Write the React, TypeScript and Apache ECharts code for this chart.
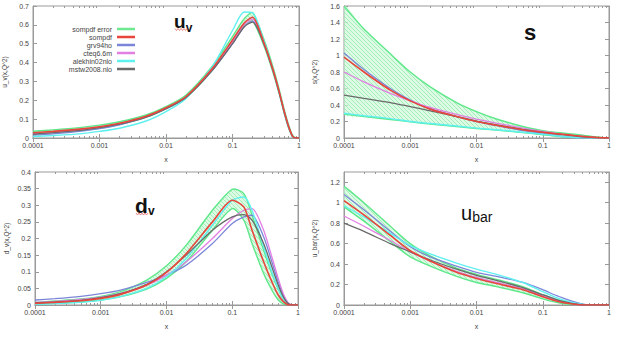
import React, { useEffect, useRef } from "react";
import * as echarts from "echarts";

// ---------- data ----------
const xs = [0.0001, 0.0002, 0.0005, 0.001, 0.002, 0.005, 0.01, 0.02, 0.05, 0.1, 0.15, 0.2, 0.3, 0.4, 0.5, 0.6, 0.7, 0.8, 0.9, 1];
const xTickLabels = ["0.0001", "0.001", "0.01", "0.1", "1"];
const xMinorTicks = [2, 3, 4, 5, 6, 7, 8, 9].flatMap((m) => [m * 1e-4, m * 1e-3, m * 1e-2, m * 1e-1]);
const legendNames = ["sompdf error", "sompdf", "grv94ho", "cteq6.6m", "alekhin02nlo", "mstw2008.nlo"];

// u_v
const uvErrLow = [0.020, 0.027, 0.039, 0.052, 0.071, 0.109, 0.154, 0.213, 0.360, 0.505, 0.592, 0.620, 0.485, 0.355, 0.238, 0.130, 0.052, 0.006, 0, 0];
const uvErrHigh = [0.036, 0.043, 0.055, 0.068, 0.086, 0.122, 0.166, 0.228, 0.382, 0.538, 0.632, 0.665, 0.518, 0.385, 0.262, 0.150, 0.068, 0.014, 0, 0];
const uvSompdf = [0.028, 0.035, 0.047, 0.060, 0.078, 0.115, 0.160, 0.220, 0.370, 0.520, 0.610, 0.640, 0.500, 0.370, 0.250, 0.140, 0.060, 0.010, 0, 0];
const uvGrv = [0.015, 0.022, 0.035, 0.050, 0.070, 0.110, 0.155, 0.215, 0.360, 0.500, 0.590, 0.620, 0.495, 0.365, 0.245, 0.135, 0.055, 0.008, 0, 0];
const uvCteq = [0.022, 0.030, 0.043, 0.057, 0.076, 0.113, 0.158, 0.218, 0.365, 0.510, 0.600, 0.630, 0.500, 0.368, 0.248, 0.138, 0.058, 0.009, 0, 0];
const uvAlekhin = [0.008, 0.013, 0.022, 0.035, 0.052, 0.090, 0.140, 0.210, 0.380, 0.570, 0.668, 0.665, 0.510, 0.370, 0.245, 0.135, 0.055, 0.008, 0, 0];
const uvMstw = [0.020, 0.028, 0.040, 0.055, 0.073, 0.110, 0.155, 0.215, 0.360, 0.500, 0.590, 0.615, 0.495, 0.365, 0.245, 0.138, 0.058, 0.010, 0, 0];

// s
const sErrLow = [0.29, 0.26, 0.225, 0.195, 0.17, 0.14, 0.115, 0.095, 0.065, 0.04, 0.025, 0.015, 0.005, 0.001, 0, 0, 0, 0, 0, 0];
const sErrHigh = [1.60, 1.32, 1.02, 0.80, 0.62, 0.43, 0.32, 0.23, 0.14, 0.09, 0.07, 0.06, 0.045, 0.033, 0.024, 0.016, 0.01, 0.005, 0.002, 0];
const sSompdf = [0.98, 0.80, 0.58, 0.45, 0.35, 0.26, 0.20, 0.155, 0.10, 0.07, 0.055, 0.045, 0.03, 0.02, 0.013, 0.008, 0.004, 0.002, 0.001, 0];
const sGrv = [1.03, 0.83, 0.60, 0.46, 0.355, 0.26, 0.20, 0.15, 0.09, 0.055, 0.035, 0.02, 0.006, 0.001, 0, 0, 0, 0, 0, 0];
const sCteq = [0.80, 0.68, 0.54, 0.45, 0.37, 0.285, 0.23, 0.18, 0.12, 0.08, 0.06, 0.045, 0.03, 0.02, 0.012, 0.007, 0.004, 0.002, 0.001, 0];
const sAlekhin = [0.30, 0.27, 0.235, 0.20, 0.175, 0.145, 0.12, 0.10, 0.07, 0.045, 0.03, 0.018, 0.006, 0.001, 0, 0, 0, 0, 0, 0];
const sMstw = [0.52, 0.48, 0.43, 0.38, 0.33, 0.26, 0.205, 0.16, 0.105, 0.07, 0.05, 0.04, 0.025, 0.015, 0.01, 0.006, 0.003, 0.001, 0, 0];

// d_v
const dvErrLow = [0.003, 0.005, 0.009, 0.015, 0.025, 0.048, 0.080, 0.130, 0.225, 0.290, 0.255, 0.185, 0.095, 0.045, 0.015, 0.003, 0, 0, 0, 0];
const dvErrHigh = [0.008, 0.012, 0.018, 0.026, 0.040, 0.075, 0.118, 0.180, 0.285, 0.348, 0.335, 0.270, 0.165, 0.095, 0.048, 0.018, 0.004, 0, 0, 0];
const dvSompdf = [0.005, 0.008, 0.013, 0.020, 0.032, 0.060, 0.098, 0.155, 0.250, 0.315, 0.295, 0.225, 0.130, 0.070, 0.030, 0.010, 0.001, 0, 0, 0];
const dvGrv = [0.015, 0.019, 0.026, 0.034, 0.045, 0.068, 0.090, 0.120, 0.185, 0.245, 0.265, 0.270, 0.205, 0.130, 0.070, 0.028, 0.006, 0, 0, 0];
const dvCteq = [0.008, 0.011, 0.017, 0.024, 0.035, 0.060, 0.090, 0.130, 0.200, 0.260, 0.285, 0.290, 0.225, 0.145, 0.080, 0.033, 0.008, 0, 0, 0];
const dvAlekhin = [0.002, 0.004, 0.008, 0.014, 0.025, 0.050, 0.085, 0.140, 0.240, 0.315, 0.325, 0.285, 0.175, 0.100, 0.050, 0.018, 0.003, 0, 0, 0];
const dvMstw = [0.006, 0.009, 0.014, 0.022, 0.034, 0.062, 0.100, 0.150, 0.225, 0.265, 0.272, 0.255, 0.185, 0.115, 0.060, 0.024, 0.005, 0, 0, 0];

// u_bar
const ubErrLow = [0.96, 0.82, 0.62, 0.47, 0.38, 0.28, 0.22, 0.18, 0.12, 0.06, 0.03, 0.015, 0.003, 0, 0, 0, 0, 0, 0, 0];
const ubErrHigh = [1.16, 1.00, 0.77, 0.60, 0.48, 0.36, 0.30, 0.25, 0.18, 0.10, 0.06, 0.04, 0.015, 0.004, 0, 0, 0, 0, 0, 0];
const ubSompdf = [1.02, 0.88, 0.68, 0.53, 0.43, 0.32, 0.26, 0.21, 0.15, 0.08, 0.045, 0.025, 0.008, 0, 0, 0, 0, 0, 0, 0];
const ubGrv = [1.08, 0.93, 0.72, 0.57, 0.47, 0.38, 0.32, 0.28, 0.22, 0.15, 0.10, 0.07, 0.03, 0.008, 0, 0, 0, 0, 0, 0];
const ubCteq = [0.87, 0.77, 0.63, 0.52, 0.43, 0.33, 0.27, 0.22, 0.16, 0.09, 0.05, 0.03, 0.01, 0, 0, 0, 0, 0, 0, 0];
const ubAlekhin = [0.97, 0.86, 0.70, 0.58, 0.50, 0.41, 0.35, 0.30, 0.22, 0.13, 0.08, 0.05, 0.02, 0.005, 0, 0, 0, 0, 0, 0];
const ubMstw = [0.80, 0.72, 0.60, 0.52, 0.44, 0.35, 0.29, 0.24, 0.17, 0.10, 0.06, 0.035, 0.012, 0, 0, 0, 0, 0, 0, 0];

// ---------- styling ----------
const COLORS = {
  band: "#5ee88a",
  sompdf: "#e8453c",
  grv: "#7c86d8",
  cteq: "#e27fe2",
  alekhin: "#5ff0f0",
  mstw: "#6a6a6a",
};
const FONT = "Liberation Sans, Arial, sans-serif";

const grids = [
  { left: 33, top: 6, width: 266, height: 132 },
  { left: 344, top: 6, width: 265, height: 132 },
  { left: 35, top: 172, width: 263, height: 133 },
  { left: 344, top: 172, width: 265, height: 133 },
];

const panels = [
  { yName: "u_v(x,Q^2)", yMax: 0.7, yInterval: 0.1, lo: uvErrLow, hi: uvErrHigh, lines: [uvGrv, uvCteq, uvAlekhin, uvMstw, uvSompdf] },
  { yName: "s(x,Q^2)", yMax: 1.6, yInterval: 0.2, lo: sErrLow, hi: sErrHigh, lines: [sGrv, sCteq, sAlekhin, sMstw, sSompdf] },
  { yName: "d_v(x,Q^2)", yMax: 0.4, yInterval: 0.05, lo: dvErrLow, hi: dvErrHigh, lines: [dvGrv, dvCteq, dvAlekhin, dvMstw, dvSompdf] },
  { yName: "u_bar(x,Q^2)", yMax: 1.3, yInterval: 0.2, lo: ubErrLow, hi: ubErrHigh, lines: [ubGrv, ubCteq, ubAlekhin, ubMstw, ubSompdf] },
];
const lineMeta = [
  { name: "grv94ho", color: COLORS.grv, width: 1.3 },
  { name: "cteq6.6m", color: COLORS.cteq, width: 1.3 },
  { name: "alekhin02nlo", color: COLORS.alekhin, width: 1.4 },
  { name: "mstw2008.nlo", color: COLORS.mstw, width: 1.3 },
  { name: "sompdf", color: COLORS.sompdf, width: 1.6 },
];

function makeHatch(): any {
  const c = document.createElement("canvas");
  c.width = 4;
  c.height = 4;
  const ctx = c.getContext("2d");
  if (!ctx) return "rgba(170,240,190,0.5)";
  ctx.fillStyle = "rgba(205,248,216,0.7)";
  ctx.fillRect(0, 0, 4, 4);
  ctx.strokeStyle = "rgba(140,232,168,0.7)";
  ctx.lineWidth = 1;
  ctx.beginPath();
  ctx.moveTo(0, 0);
  ctx.lineTo(4, 4);
  ctx.stroke();
  return { image: c, repeat: "repeat" };
}

function wave(x0: number, x1: number, y: number) {
  const pts: number[][] = [];
  let up = true;
  for (let x = x0; x <= x1; x += 1.5) {
    pts.push([x, up ? y - 1 : y + 1]);
    up = !up;
  }
  return pts;
}

function buildOption() {
  const hatch = makeHatch();
  const xAxis: any[] = [];
  const yAxis: any[] = [];
  const series: any[] = [];
  const axisLineStyle = { color: "#9a9a9a", width: 1 };
  const labelStyle = { fontSize: 7, color: "#444", fontFamily: FONT };

  grids.forEach((g, i) => {
    const p = panels[i];
    const baseX = { type: "log", logBase: 10, min: 0.0001, max: 1, gridIndex: i, splitLine: { show: false } };
    xAxis.push({
      ...baseX,
      position: "bottom",
      name: "x",
      nameLocation: "middle",
      nameGap: 18,
      nameTextStyle: { fontSize: 7, color: "#444", fontFamily: FONT },
      axisLine: { show: true, lineStyle: axisLineStyle },
      axisTick: { show: true, inside: true, length: 4, lineStyle: axisLineStyle },
      axisLabel: {
        ...labelStyle,
        margin: 4,
        formatter: (v: number) => xTickLabels[Math.round(Math.log10(v)) + 4] ?? "",
      },
    });
    xAxis.push({
      ...baseX,
      position: "top",
      axisLine: { show: true, lineStyle: axisLineStyle },
      axisTick: { show: true, inside: true, length: 4, lineStyle: axisLineStyle },
      axisLabel: { show: false },
    });
    xAxis.push({
      ...baseX,
      position: "bottom",
      axisLine: { show: false },
      axisTick: { show: true, inside: true, length: 2, customValues: xMinorTicks, lineStyle: axisLineStyle },
      axisLabel: { show: false },
    });
    xAxis.push({
      ...baseX,
      position: "top",
      axisLine: { show: false },
      axisTick: { show: true, inside: true, length: 2, customValues: xMinorTicks, lineStyle: axisLineStyle },
      axisLabel: { show: false },
    });
    const baseY = { type: "value", min: 0, max: p.yMax, interval: p.yInterval, gridIndex: i, splitLine: { show: false } };
    yAxis.push({
      ...baseY,
      position: "left",
      name: p.yName,
      nameLocation: "middle",
      nameGap: i % 2 === 0 ? 25 : 26,
      nameRotate: 90,
      nameTextStyle: { fontSize: 6.5, color: "#444", fontFamily: FONT },
      axisLine: { show: true, lineStyle: axisLineStyle },
      axisTick: { show: true, inside: true, length: 4, lineStyle: axisLineStyle },
      axisLabel: { ...labelStyle, margin: 4, showMaxLabel: i !== 3 },
    });
    yAxis.push({
      ...baseY,
      position: "right",
      axisLine: { show: true, lineStyle: axisLineStyle },
      axisTick: { show: true, inside: true, length: 4, lineStyle: axisLineStyle },
      axisLabel: { show: false },
    });

    const lo = p.lo;
    const hi = p.hi;
    series.push({
      type: "custom",
      name: "sompdf error",
      xAxisIndex: 4 * i,
      yAxisIndex: 2 * i,
      clip: true,
      itemStyle: { color: "#7fe89a" },
      data: [[xs[0], lo[0]]],
      renderItem: (_params: any, api: any) => {
        const up = xs.map((x, k) => api.coord([x, hi[k]]));
        const dn = xs.map((x, k) => api.coord([x, lo[k]]));
        return {
          type: "group",
          children: [
            {
              type: "polygon",
              shape: { points: up.concat(dn.slice().reverse()), smooth: 0.25 },
              style: { fill: hatch, stroke: "none" },
            },
            {
              type: "polyline",
              shape: { points: up, smooth: 0.25 },
              style: { stroke: COLORS.band, lineWidth: 1.4, fill: "none" },
            },
            {
              type: "polyline",
              shape: { points: dn, smooth: 0.25 },
              style: { stroke: COLORS.band, lineWidth: 1.4, fill: "none" },
            },
          ],
        };
      },
    });

    p.lines.forEach((arr, j) => {
      const m = lineMeta[j];
      series.push({
        type: "line",
        name: m.name,
        xAxisIndex: 4 * i,
        yAxisIndex: 2 * i,
        data: xs.map((x, k) => [x, arr[k]]),
        showSymbol: false,
        symbol: "none",
        smooth: 0.25,
        lineStyle: { color: m.color, width: m.width },
        itemStyle: { color: m.color },
        z: 3 + j,
      });
    });
  });

  const titleText = (text: string, x: number, y: number, size: number, bold: boolean) => ({
    type: "text",
    x,
    y,
    z: 100,
    style: {
      text,
      fontSize: size,
      fontWeight: bold ? "bold" : "normal",
      fontFamily: FONT,
      fill: "#111",
      align: "left",
      verticalAlign: "middle",
    },
  });

  const graphic: any[] = [
    titleText("u", 174, 21, 19, true),
    titleText("v", 185.8, 28, 12, true),
    { type: "polyline", z: 100, shape: { points: wave(175, 187, 29.5) }, style: { stroke: "#e25555", lineWidth: 0.7, fill: "none" } },
    titleText("s", 524, 32, 22, true),
    titleText("d", 135, 205, 21, true),
    titleText("v", 147.9, 211, 12, true),
    { type: "polyline", z: 100, shape: { points: wave(136, 149, 214) }, style: { stroke: "#e25555", lineWidth: 0.7, fill: "none" } },
    titleText("u", 461, 213, 20, false),
    titleText("bar", 472.2, 217, 14, false),
  ];

  const legendColors: Record<string, string> = {
    "sompdf error": "#6fe890",
    sompdf: COLORS.sompdf,
    grv94ho: COLORS.grv,
    "cteq6.6m": COLORS.cteq,
    alekhin02nlo: COLORS.alekhin,
    "mstw2008.nlo": COLORS.mstw,
  };

  return {
    animation: false,
    backgroundColor: "#ffffff",
    grid: grids.map((g) => ({ ...g, show: true, borderColor: "#9a9a9a", borderWidth: 1, backgroundColor: "transparent" })),
    xAxis,
    yAxis,
    legend: {
      orient: "vertical",
      align: "right",
      right: 623 - 135,
      top: 25,
      padding: 0,
      itemGap: 0,
      itemWidth: 18,
      itemHeight: 2.5,
      selectedMode: false,
      textStyle: { fontSize: 7, color: "#444", fontFamily: FONT, lineHeight: 8 },
      data: legendNames.map((n) => ({ name: n, icon: "rect", itemStyle: { color: legendColors[n] } })),
    },
    graphic,
    series,
  };
}

export default function App() {
  const ref = useRef<HTMLDivElement | null>(null);
  useEffect(() => {
    if (!ref.current) return;
    const chart = echarts.init(ref.current, undefined, { renderer: "svg" });
    chart.setOption(buildOption() as any);
    return () => chart.dispose();
  }, []);
  return (
    <div
      ref={ref}
      style={{ position: "fixed", left: 0, top: 0, width: 623, height: 338, background: "#fff" }}
    />
  );
}
